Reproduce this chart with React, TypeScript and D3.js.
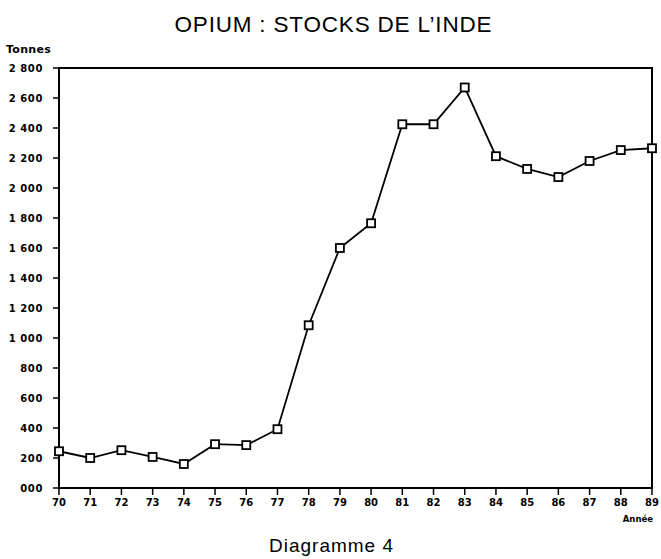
import React from "react";
import * as d3 from "d3";

const years = ["70","71","72","73","74","75","76","77","78","79","80","81","82","83","84","85","86","87","88","89"];
const stocks = [245, 200, 252, 207, 160, 292, 286, 392, 1085, 1600, 1765, 2425, 2425, 2670, 2212, 2127, 2073, 2180, 2253, 2265];
const yTicks = [0, 200, 400, 600, 800, 1000, 1200, 1400, 1600, 1800, 2000, 2200, 2400, 2600, 2800];
const yTickLabels = ["000", "200", "400", "600", "800", "1 000", "1 200", "1 400", "1 600", "1 800", "2 000", "2 200", "2 400", "2 600", "2 800"];

export default function App() {
  const W = 661, H = 559;
  const left = 59, right = 652, top = 68, bottom = 488;
  const x = d3.scalePoint<string>().domain(years).range([left, right]);
  const y = d3.scaleLinear().domain([0, 2800]).range([bottom, top]);
  const line = d3.line<number>().x((_, i) => x(years[i]) as number).y(d => y(d));
  const font = "Arial, 'Liberation Sans', Helvetica, sans-serif";
  const tickFont = "'DejaVu Sans', Verdana, sans-serif";
  return (
    <svg width={W} height={H} style={{ position: "absolute", left: 0, top: 0, background: "#fff" }} fontFamily={font}>
      <text x={333} y={32} textAnchor="middle" fontSize={22.5} textLength={317} lengthAdjust="spacing">OPIUM : STOCKS DE L’INDE</text>
      <text x={6} y={53} fontSize={11} fontWeight="bold" fontFamily={tickFont} letterSpacing={0.3}>Tonnes</text>
      <rect x={left} y={top} width={right - left} height={bottom - top} fill="none" stroke="#000" strokeWidth={2} />
      {yTicks.map((t, i) => (
        <g key={t}>
          <line x1={left - 6} x2={left} y1={y(t)} y2={y(t)} stroke="#000" strokeWidth={1.5} />
          <text x={43} y={y(t)} dy="0.35em" textAnchor="end" fontSize={10} fontWeight="bold" fontFamily={tickFont} letterSpacing={0.6}>{yTickLabels[i]}</text>
        </g>
      ))}
      {years.map(yr => (
        <g key={yr}>
          <line x1={x(yr)} x2={x(yr)} y1={bottom} y2={bottom + 7} stroke="#000" strokeWidth={1.5} />
          <text x={x(yr)} y={bottom + 18} textAnchor="middle" fontSize={10} fontWeight="bold" fontFamily={tickFont}>{yr}</text>
        </g>
      ))}
      <text x={653} y={522} textAnchor="end" fontSize={8.5} fontWeight="bold" fontFamily={tickFont}>Année</text>
      <path d={line(stocks) || ""} fill="none" stroke="#000" strokeWidth={1.8} />
      {stocks.map((v, i) => (
        <rect key={i} x={(x(years[i]) as number) - 4} y={y(v) - 4} width={8} height={8} fill="#fff" stroke="#000" strokeWidth={1.8} />
      ))}
      <text x={331} y={552} textAnchor="middle" fontSize={19} textLength={124} lengthAdjust="spacing">Diagramme 4</text>
    </svg>
  );
}
